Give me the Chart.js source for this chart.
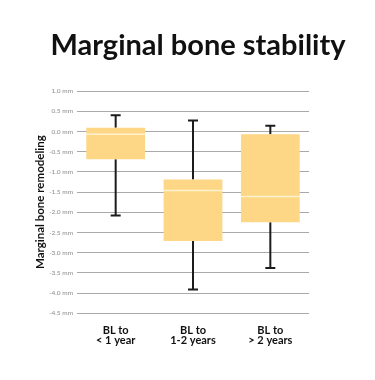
<!DOCTYPE html>
<html>
<head>
<meta charset="utf-8">
<script src="https://cdn.jsdelivr.net/npm/chart.js@4.4.1/dist/chart.umd.min.js"></script>
<style>
  html, body { margin: 0; padding: 0; background: #fff; }
  #wrap { position: relative; width: 375px; height: 380px; }
  #title {
    position: absolute; top: 26px; left: 0; width: 375px; padding-left: 21px; box-sizing: border-box;
    text-align: center; font: 700 29px Lato, sans-serif; color: #111; margin: 0;
  }
</style>
</head>
<body>
<div id="wrap">
  <h1 id="title">Marginal bone stability</h1>
  <canvas id="chart" width="375" height="380"></canvas>
</div>
<script>
// box plot values in mm
const categories = [['BL to', '< 1 year'], ['BL to', '1-2 years'], ['BL to', '> 2 years']];
const whiskerMin = [-2.08, -3.91, -3.38];
const q1 = [-0.69, -2.71, -2.25];
const median = [-0.07, -1.46, -1.61];
const q3 = [0.09, -1.19, -0.07];
const whiskerMax = [0.40, 0.27, 0.14];
const yMin = -4.5, yMax = 1.0, yStep = 0.5;

const boxColor = '#fdd785';
const medianColor = '#fff2cf';
const whiskerColor = '#1c1c1c';
const font = 'Lato, sans-serif';

const boxPlot = {
    id: 'boxPlot',
    beforeDatasetsDraw(chart) {
        const { ctx, scales: { x, y } } = chart;
        ctx.save();
        ctx.strokeStyle = whiskerColor;
        ctx.lineWidth = 2;
        categories.forEach((c, i) => {
            const px = x.getPixelForValue(i);
            const top = y.getPixelForValue(whiskerMax[i]);
            const bot = y.getPixelForValue(whiskerMin[i]);
            ctx.beginPath();
            ctx.moveTo(px, top); ctx.lineTo(px, y.getPixelForValue(q3[i]));
            ctx.moveTo(px, y.getPixelForValue(q1[i])); ctx.lineTo(px, bot);
            ctx.moveTo(px - 5, top); ctx.lineTo(px + 5, top);
            ctx.moveTo(px - 5, bot); ctx.lineTo(px + 5, bot);
            ctx.stroke();
        });
        ctx.restore();
    },
    afterDatasetsDraw(chart) {
        const { ctx, scales: { y } } = chart;
        const meta = chart.getDatasetMeta(0);
        ctx.save();
        ctx.strokeStyle = medianColor;
        ctx.lineWidth = 1.5;
        meta.data.forEach((bar, i) => {
            const py = y.getPixelForValue(median[i]);
            ctx.beginPath();
            ctx.moveTo(bar.x - bar.width / 2, py);
            ctx.lineTo(bar.x + bar.width / 2, py);
            ctx.stroke();
        });
        ctx.restore();
    }
};

new Chart(document.getElementById('chart'), {
    type: 'bar',
    data: {
        labels: categories,
        datasets: [{
            data: q1.map((v, i) => [v, q3[i]]),
            backgroundColor: boxColor,
            borderWidth: 0,
            barPercentage: 0.76,
            categoryPercentage: 1
        }]
    },
    options: {
        responsive: false,
        animation: false,
        layout: { padding: { top: 91, right: 66, left: 0, bottom: 0 } },
        plugins: { legend: { display: false }, tooltip: { enabled: false } },
        scales: {
            x: {
                grid: { display: false, drawTicks: false },
                border: { display: false },
                ticks: {
                    color: '#111', padding: 12,
                    font: { family: font, size: 11, weight: 'bold', lineHeight: 0.92 }
                },
                afterFit: s => { s.height = 66.7; }
            },
            y: {
                min: yMin, max: yMax,
                grid: { color: '#a9a9a9', lineWidth: 1, drawTicks: false },
                border: { display: false },
                ticks: {
                    stepSize: yStep, padding: 4, color: '#8a8a8a',
                    font: { family: font, size: 6.5 },
                    callback: v => (Math.round(v * 10) / 10).toFixed(1) + ' mm'
                },
                title: {
                    display: true, text: 'Marginal bone remodeling', color: '#111',
                    font: { family: font, size: 11.5, weight: 'bold' },
                    padding: { top: 33, bottom: 0 }
                },
                afterFit: s => { s.width = 77; }
            }
        }
    },
    plugins: [boxPlot]
});
</script>
</body>
</html>
